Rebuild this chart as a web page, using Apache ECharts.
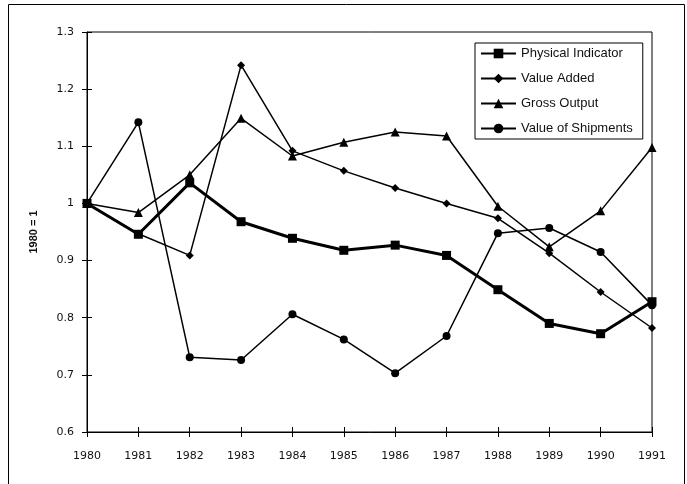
<!DOCTYPE html>
<html>
<head>
<meta charset="utf-8">
<script src="https://cdn.jsdelivr.net/npm/echarts@6/dist/echarts.min.js"></script>
<style>
  html, body { margin: 0; padding: 0; background: #fff; }
  #chart { width: 687px; height: 484px; }
</style>
</head>
<body>
<div id="chart"></div>
<script>
// years on the x axis
var years = ['1980', '1981', '1982', '1983', '1984', '1985', '1986', '1987', '1988', '1989', '1990', '1991'];

// index values, 1980 = 1
var physicalIndicator = [1.0, 0.946, 1.036, 0.968, 0.939, 0.918, 0.927, 0.909, 0.849, 0.790, 0.772, 0.828];
var valueAdded        = [1.0, 0.947, 0.909, 1.242, 1.092, 1.057, 1.027, 1.000, 0.974, 0.913, 0.845, 0.782];
var grossOutput       = [1.0, 0.984, 1.050, 1.149, 1.083, 1.107, 1.125, 1.118, 0.995, 0.924, 0.987, 1.098];
var valueOfShipments  = [1.0, 1.142, 0.731, 0.726, 0.806, 0.762, 0.703, 0.768, 0.948, 0.957, 0.915, 0.822];

var seriesNames = ['Physical Indicator', 'Value Added', 'Gross Output', 'Value of Shipments'];

var tickFont = { fontFamily: 'DejaVu Sans', fontSize: 11, color: '#111' };

var chart = echarts.init(document.getElementById('chart'));

// shared y axis settings, two copies so the ticks cross the axis line
var yBase = {
    type: 'value',
    min: 0.6,
    max: 1.3,
    interval: 0.1,
    splitLine: { show: false },
    axisLine: { show: true, lineStyle: { color: '#000', width: 1 } }
};

var option = {
    animation: false,
    color: ['#000', '#000', '#000', '#000'],
    graphic: [{
        type: 'rect',
        shape: { x: 8.5, y: 4.5, width: 676, height: 500 },
        style: { fill: 'none', stroke: '#000', lineWidth: 1 },
        silent: true
    }],
    grid: {
        left: 87, right: 35, top: 32, bottom: 52,
        show: true, borderColor: '#000', borderWidth: 1
    },
    legend: {
        orient: 'vertical',
        left: 475,
        top: 43,
        padding: [4, 10, 4, 5],
        itemWidth: 35,
        itemHeight: 12,
        itemGap: 12,
        borderColor: '#000',
        borderWidth: 1,
        textStyle: { fontFamily: 'Liberation Sans', fontSize: 13, color: '#111' },
        data: seriesNames
    },
    xAxis: [{
        type: 'category',
        data: years,
        boundaryGap: false,
        axisLine: { lineStyle: { color: '#000', width: 1 } },
        axisTick: { length: 5, lineStyle: { color: '#000' } },
        axisLabel: Object.assign({ margin: 19, interval: 0 }, tickFont)
    }, {
        type: 'category',
        data: years,
        position: 'bottom',
        boundaryGap: false,
        axisLine: { show: false },
        axisTick: { inside: true, length: 5, lineStyle: { color: '#000' } },
        axisLabel: { show: false }
    }],
    yAxis: [Object.assign({}, yBase, {
        name: '1980 = 1',
        nameLocation: 'middle',
        nameGap: 48,
        nameTextStyle: { fontFamily: 'Liberation Sans', fontSize: 11, fontWeight: 'bold', color: '#111' },
        axisTick: { show: true, length: 5, lineStyle: { color: '#000' } },
        axisLabel: Object.assign({
            margin: 13,
            formatter: function (v) { return String(Math.round(v * 10) / 10); }
        }, tickFont)
    }), Object.assign({}, yBase, {
        position: 'left',
        axisLine: { show: false },
        axisTick: { show: true, inside: true, length: 5, lineStyle: { color: '#000' } },
        axisLabel: { show: false }
    })],
    series: [{
        name: 'Physical Indicator',
        type: 'line',
        data: physicalIndicator,
        symbol: 'rect',
        symbolSize: 9,
        lineStyle: { width: 3, color: '#000' },
        itemStyle: { color: '#000' }
    }, {
        name: 'Value Added',
        type: 'line',
        data: valueAdded,
        symbol: 'diamond',
        symbolSize: 8,
        lineStyle: { width: 1.5, color: '#000' },
        itemStyle: { color: '#000' }
    }, {
        name: 'Gross Output',
        type: 'line',
        data: grossOutput,
        symbol: 'triangle',
        symbolSize: 9,
        lineStyle: { width: 1.5, color: '#000' },
        itemStyle: { color: '#000' }
    }, {
        name: 'Value of Shipments',
        type: 'line',
        data: valueOfShipments,
        symbol: 'circle',
        symbolSize: 8,
        lineStyle: { width: 1.5, color: '#000' },
        itemStyle: { color: '#000' }
    }]
};

chart.setOption(option);
</script>
</body>
</html>
